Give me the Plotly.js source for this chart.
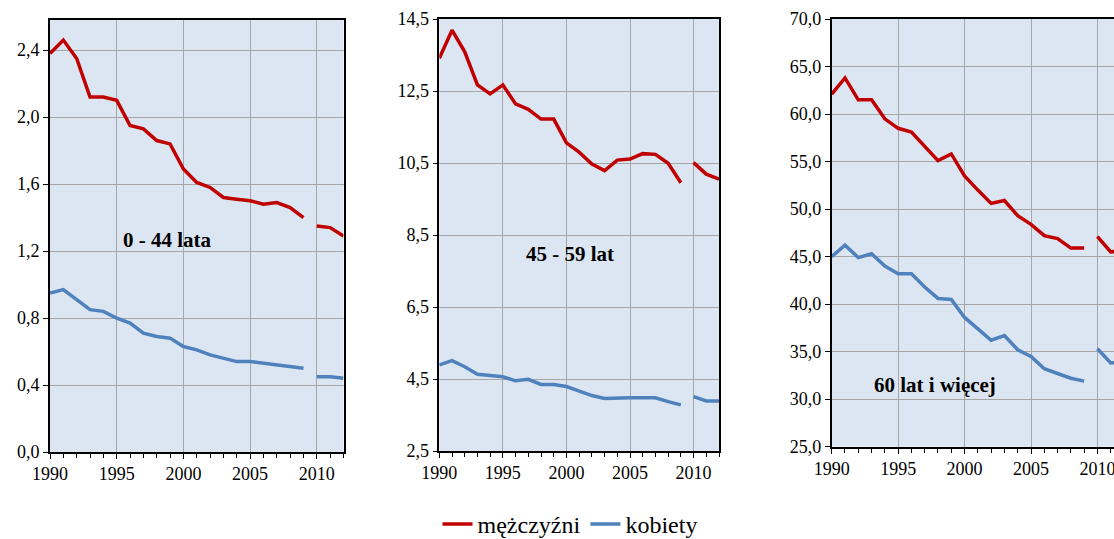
<!DOCTYPE html>
<html>
<head>
<meta charset="utf-8">
<script src="https://cdn.plot.ly/plotly-3.0.1.min.js"></script>
<style>
html,body{margin:0;padding:0;overflow:hidden;background:#fff;}
#chart{width:1140px;height:539px;}
</style>
</head>
<body>
<div id="chart"></div>
<script>
// ---- data ----
const years = [1990,1991,1992,1993,1994,1995,1996,1997,1998,1999,2000,2001,2002,2003,2004,2005,2006,2007,2008,2009,2010,2011,2012];
const gapAfterYear = 2009; // series break between 2009 and 2010

const seriesNames = ["mężczyźni", "kobiety"];
const panelLabels = ["0 - 44 lata", "45 - 59 lat", "60 lat i więcej"];

// panel 1: 0-44 lata
const men_0_44   = [2.38,2.46,2.35,2.12,2.12,2.10,1.95,1.93,1.86,1.84,1.69,1.61,1.58,1.52,1.51,1.50,1.48,1.49,1.46,1.40,1.35,1.34,1.29];
const women_0_44 = [0.95,0.97,0.91,0.85,0.84,0.80,0.77,0.71,0.69,0.68,0.63,0.61,0.58,0.56,0.54,0.54,0.53,0.52,0.51,0.50,0.45,0.45,0.44];
// panel 2: 45-59 lat
const men_45_59   = [13.41,14.19,13.59,12.67,12.42,12.67,12.14,11.99,11.72,11.72,11.06,10.80,10.47,10.29,10.58,10.61,10.76,10.74,10.49,9.95,10.51,10.19,10.05];
const women_45_59 = [4.89,5.01,4.84,4.63,4.60,4.56,4.45,4.49,4.35,4.35,4.29,4.17,4.04,3.96,3.98,3.98,3.98,3.98,3.87,3.78,4.01,3.89,3.89];
// panel 3: 60 lat i więcej
const men_60   = [62.1,63.8,61.5,61.5,59.5,58.5,58.1,56.6,55.1,55.8,53.5,52.0,50.6,50.9,49.3,48.4,47.2,46.9,45.9,45.9,47.1,45.5,45.6];
const women_60 = [45.0,46.2,44.9,45.3,44.0,43.2,43.2,41.8,40.6,40.5,38.6,37.4,36.2,36.7,35.2,34.5,33.2,32.7,32.2,31.9,35.3,33.8,33.9];

// y-axis settings per panel
const yRanges = [[0, 2.58], [2.5, 14.5], [25, 70]];
const yTick0 = [0, 2.5, 25];
const yDtick = [0.4, 2, 5];

// ---- styling ----
const colors = ["#c00000", "#4f81bd"];
const font = "Liberation Serif";
const W = 1140, H = 539;

const panels = [
  {men: men_0_44, women: women_0_44, xpx: [50, 343.5], ypx: [20, 452], ann: [0.402, 0.491]},
  {men: men_45_59, women: women_45_59, xpx: [439.3, 719], ypx: [19, 451], ann: [0.467, 0.456]},
  {men: men_60, women: women_60, xpx: [831.7, 1124], ypx: [19, 446.7], ann: [0.353, 0.144]}
];

const cut = years.indexOf(gapAfterYear) + 1;
const traces = [];
const layout = {
  width: W, height: H,
  margin: {l: 0, r: 0, t: 0, b: 0, autoexpand: false},
  paper_bgcolor: "#ffffff",
  plot_bgcolor: "#dce6f2",
  separators: ", ",
  font: {family: font, size: 18, color: "#000"},
  showlegend: true,
  legend: {orientation: "h", x: 0.5, xanchor: "center", y: 0.027, yanchor: "middle",
           font: {family: font, size: 24, color: "#000"}, bgcolor: "rgba(0,0,0,0)",
           itemwidth: 30, tracegroupgap: 0},
  annotations: []
};

panels.forEach((p, i) => {
  const n = i + 1;
  const xa = "x" + (n === 1 ? "" : n), ya = "y" + (n === 1 ? "" : n);
  [p.men, p.women].forEach((vals, s) => {
    [[0, cut], [cut, years.length]].forEach((seg, k) => {
      traces.push({
        type: "scatter", mode: "lines",
        x: years.slice(seg[0], seg[1]), y: vals.slice(seg[0], seg[1]),
        xaxis: xa, yaxis: ya,
        name: seriesNames[s], legendgroup: seriesNames[s],
        showlegend: (i === 0 && k === 0),
        line: {color: colors[s], width: 3.5},
        hoverinfo: "x+y"
      });
    });
  });
  const xkey = "xaxis" + (n === 1 ? "" : n), ykey = "yaxis" + (n === 1 ? "" : n);
  layout[xkey] = {
    domain: [p.xpx[0] / W, p.xpx[1] / W],
    anchor: ya,
    range: [1990, 2012],
    tick0: 1990, dtick: 5,
    ticks: "outside", ticklen: 5, tickwidth: 1.2, tickcolor: "#000",
    minor: {dtick: 1, ticks: "outside", ticklen: 4, tickwidth: 1, tickcolor: "#000", showgrid: false},
    showgrid: true, gridcolor: "#a6a6a6", gridwidth: 1,
    showline: true, linecolor: "#000", linewidth: 1.6, mirror: true,
    zeroline: false,
    tickfont: {family: font, size: 18, color: "#000"},
    automargin: false,
    fixedrange: true
  };
  layout[ykey] = {
    domain: [1 - p.ypx[1] / H, 1 - p.ypx[0] / H],
    anchor: xa,
    range: yRanges[i],
    tick0: yTick0[i], dtick: yDtick[i],
    tickformat: ".1f",
    ticks: "outside", ticklen: 5, tickwidth: 1.2, tickcolor: "#000",
    showgrid: true, gridcolor: "#a6a6a6", gridwidth: 1,
    showline: true, linecolor: "#000", linewidth: 1.6, mirror: true,
    zeroline: false,
    tickfont: {family: font, size: 18, color: "#000"},
    automargin: false,
    fixedrange: true
  };
  layout.annotations.push({
    text: "<b>" + panelLabels[i] + "</b>",
    xref: xa + " domain", yref: ya + " domain",
    x: p.ann[0], y: p.ann[1], xanchor: "center", yanchor: "middle",
    showarrow: false, font: {family: font, size: 21, color: "#000"}
  });
});

Plotly.newPlot("chart", traces, layout, {displayModeBar: false});
</script>
</body>
</html>
